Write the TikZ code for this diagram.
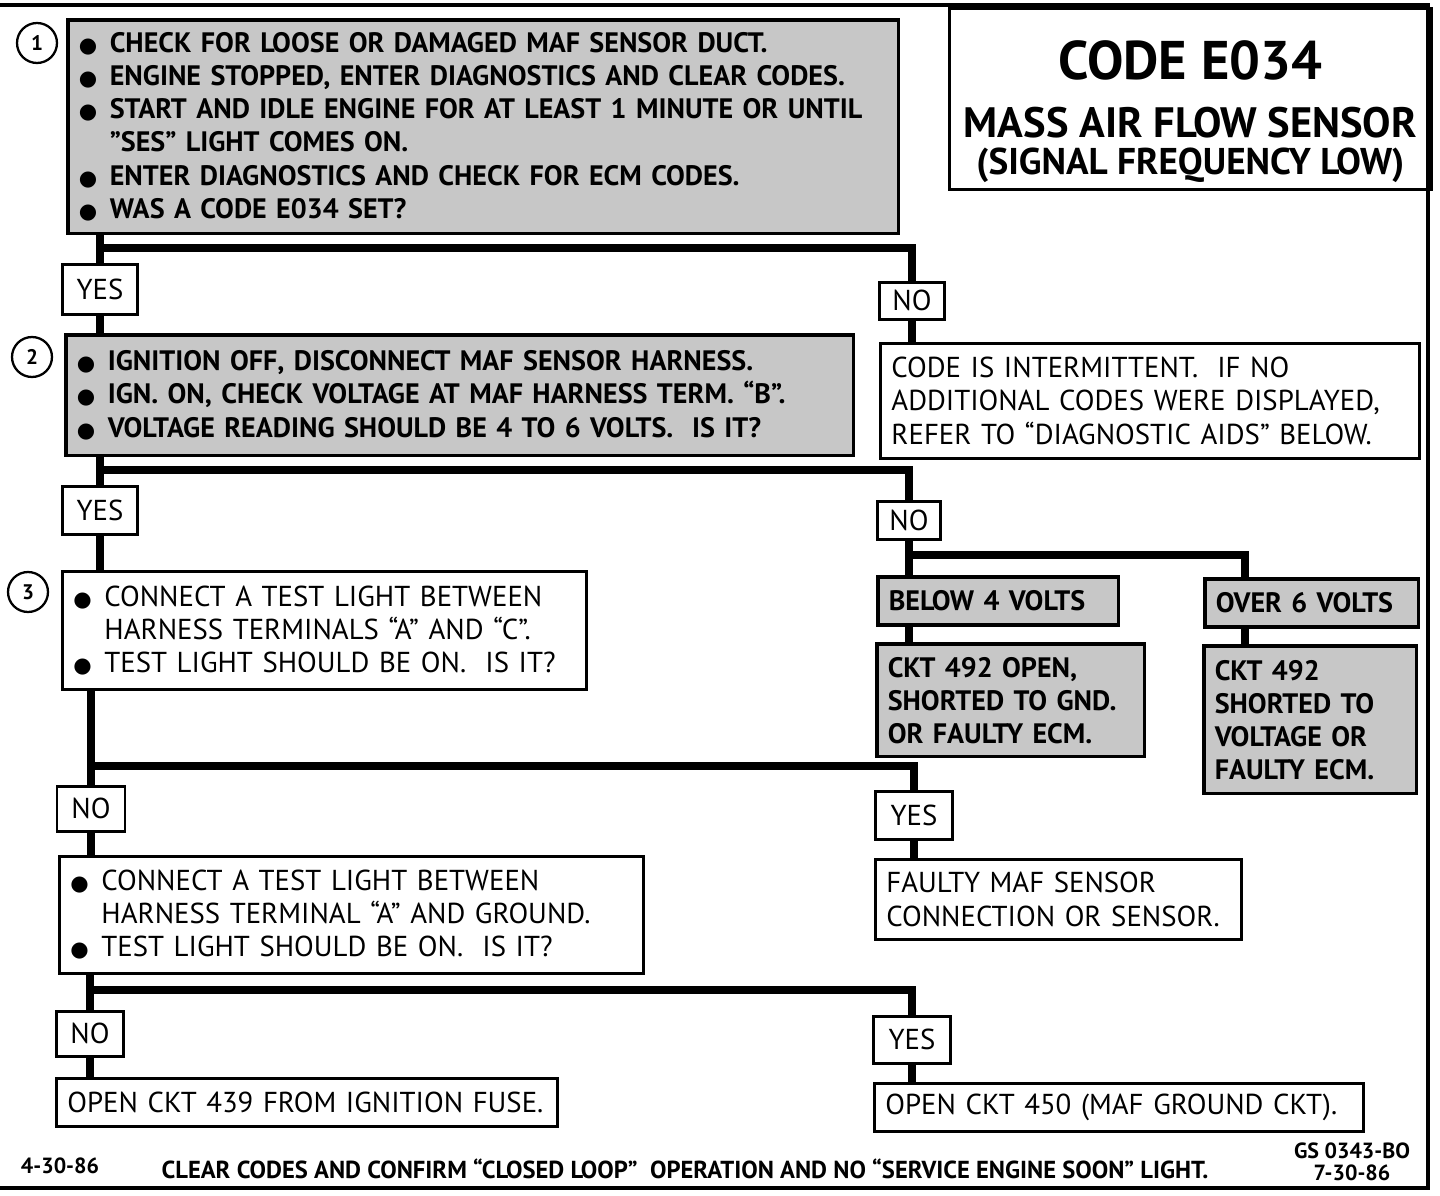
\documentclass[tikz,border=0pt]{standalone}
\usepackage{fontspec}
\setmainfont{PT Sans}
\newfontfamily\symfont{DejaVu Sans}
\usepackage{tikz}
\usetikzlibrary{positioning, calc}
\newcommand{\bodyfont}{\fontsize{16.4}{18.8}\selectfont}
\newcommand{\boldfont}{\fontsize{16}{18.8}\selectfont\bfseries}
\newcommand{\blt}{\makebox[0.62cm][l]{{\symfont\fontsize{12}{0}\selectfont ●}}}
\newcommand{\ind}{\hspace*{0.62cm}}
\tikzset{
  wire/.style={line width=4.6pt},
  frame/.style={line width=2.2pt},
  plainbox/.style={draw, line width=1.6pt, anchor=north west, align=left,
    inner xsep=0.22cm, inner ysep=0pt, font=\bodyfont},
  shadebox/.style={plainbox, line width=2pt, fill=black!22, font=\boldfont},
  answer/.style={draw, line width=1.6pt, anchor=north, inner sep=0pt, font=\bodyfont},
  stepnum/.style={circle, draw, line width=1.3pt, minimum size=0.8cm, inner sep=0pt,
    font=\fontsize{12}{14}\selectfont\bfseries},
  footnote/.style={font=\fontsize{12.5}{14}\selectfont\bfseries}
}
\begin{document}
\begin{tikzpicture}[x=0.02cm, y=-0.02cm]
  \useasboundingbox (0,0) rectangle (1440,1196);

  % outer frame
  \draw[frame] (0,5) -- (1428,5) -- (1428,1188) -- (0,1188);

  % title block
  \node[draw, line width=1.6pt, anchor=north west, minimum width=9.64cm,
        minimum height=3.62cm, align=center, inner sep=0pt,
        font=\fontsize{24}{33}\selectfont] (title) at (948,7)
    {\rule{0pt}{1.29cm}{\fontsize{31}{33}\selectfont\bfseries CODE E034}\\
     {\fontsize{24.2}{33}\selectfont\bfseries MASS AIR FLOW SENSOR}\\[-11.4pt]
     {\fontsize{21.2}{24}\selectfont\bfseries (SIGNAL FREQUENCY LOW)}};

  % step 1
  \node[shadebox, text width=16.18cm, minimum height=4.28cm] (q1) at (66,18)
    {\blt CHECK FOR LOOSE OR DAMAGED MAF SENSOR DUCT.\\
     \blt ENGINE STOPPED, ENTER DIAGNOSTICS AND CLEAR CODES.\\
     \blt START AND IDLE ENGINE FOR AT LEAST 1 MINUTE OR UNTIL\\
     \ind ''SES'' LIGHT COMES ON.\\
     \blt ENTER DIAGNOSTICS AND CHECK FOR ECM CODES.\\
     \blt WAS A CODE E034 SET?};
  \node[stepnum] (n1) at (37,43) {1};

  \node[answer, minimum width=1.5cm, minimum height=1.0cm] (yes1) at (100,263) {YES};
  \node[answer, minimum width=1.3cm, minimum height=0.74cm] (no1) at (912,281) {NO};

  \node[plainbox, text width=10.34cm, minimum height=2.3cm] (interm) at (879,342)
    {CODE IS INTERMITTENT.\ \ IF NO\\
     ADDITIONAL CODES WERE DISPLAYED,\\
     REFER TO ``DIAGNOSTIC AIDS'' BELOW.};

  % step 2
  \node[shadebox, text width=15.32cm, minimum height=2.42cm] (q2) at (64,333)
    {\blt IGNITION OFF, DISCONNECT MAF SENSOR HARNESS.\\
     \blt IGN. ON, CHECK VOLTAGE AT MAF HARNESS TERM. ``B''.\\
     \blt VOLTAGE READING SHOULD BE 4 TO 6 VOLTS.\ \ IS IT?};
  \node[stepnum] (n2) at (32,357) {2};

  \node[answer, minimum width=1.5cm, minimum height=0.96cm] (yes2) at (100,485) {YES};
  \node[answer, minimum width=1.26cm, minimum height=0.76cm] (no2) at (909,500) {NO};

  \node[shadebox, text width=4.38cm, minimum height=0.96cm] (below) at (876,575) {BELOW 4 VOLTS};
  \node[shadebox, text width=3.84cm, minimum height=0.96cm] (over) at (1203,577) {OVER 6 VOLTS};

  \node[shadebox, text width=4.92cm, minimum height=2.26cm] (ckt1) at (875,642)
    {CKT 492 OPEN,\\ SHORTED TO GND.\\ OR FAULTY ECM.};
  \node[shadebox, text width=3.82cm, minimum height=2.96cm] (ckt2) at (1202,644)
    {CKT 492\\ SHORTED TO\\ VOLTAGE OR\\ FAULTY ECM.};

  % step 3
  \node[plainbox, text width=10.04cm, minimum height=2.36cm] (q3) at (61,570)
    {\blt CONNECT A TEST LIGHT BETWEEN\\
     \ind HARNESS TERMINALS ``A'' AND ``C''.\\
     \blt TEST LIGHT SHOULD BE ON.\ \ IS IT?};
  \node[stepnum] (n3) at (28,592) {3};

  \node[answer, minimum width=1.36cm, minimum height=0.9cm] (no3) at (91,785) {NO};
  \node[answer, minimum width=1.54cm, minimum height=0.96cm] (yes3) at (914,790) {YES};

  \node[plainbox, text width=6.88cm, minimum height=1.6cm] (faulty) at (874,858)
    {FAULTY MAF SENSOR\\ CONNECTION OR SENSOR.};

  \node[plainbox, text width=11.24cm, minimum height=2.34cm] (q4) at (58,855)
    {\blt CONNECT A TEST LIGHT BETWEEN\\
     \ind HARNESS TERMINAL ``A'' AND GROUND.\\
     \blt TEST LIGHT SHOULD BE ON.\ \ IS IT?};

  \node[answer, minimum width=1.34cm, minimum height=0.9cm] (no4) at (90,1010) {NO};
  \node[answer, minimum width=1.54cm, minimum height=0.94cm] (yes4) at (912,1015) {YES};

  \node[plainbox, text width=9.58cm, minimum height=0.96cm] (open439) at (55,1077)
    {OPEN CKT 439 FROM IGNITION FUSE.};
  \node[plainbox, text width=9.34cm, minimum height=0.96cm] (open450) at (873,1082)
    {OPEN CKT 450 (MAF GROUND CKT).};

  % junctions
  \coordinate (j1) at (100,248);
  \coordinate (j2) at (100,470);
  \coordinate (jv) at (909,555);
  \coordinate (jw) at (1245,555);
  \coordinate (j3) at (91,766);
  \coordinate (j4) at (90,990);

  % connectors
  \draw[wire] (q1.south -| yes1.north) -- (yes1.north);
  \draw[wire] (j1) -| (no1.north);
  \draw[wire] (yes1.south) -- (yes1.south |- q2.north);
  \draw[wire] (no1.south) -- (no1.south |- interm.north);

  \draw[wire] (q2.south -| yes2.north) -- (yes2.north);
  \draw[wire] (j2) -| (no2.north);
  \draw[wire] (yes2.south) -- (yes2.south |- q3.north);
  \draw[wire] (no2.south) -- (no2.south |- below.north);
  \draw[wire] (jv) -- (jw) -- (jw |- over.north);
  \draw[wire] (no2.south |- below.south) -- (no2.south |- ckt1.north);
  \draw[wire] (jw |- over.south) -- (jw |- ckt2.north);

  \draw[wire] (q3.south -| no3.north) -- (no3.north);
  \draw[wire] (j3) -| (yes3.north);
  \draw[wire] (yes3.south) -- (yes3.south |- faulty.north);
  \draw[wire] (no3.south) -- (no3.south |- q4.north);

  \draw[wire] (q4.south -| no4.north) -- (no4.north);
  \draw[wire] (j4) -| (yes4.north);
  \draw[wire] (no4.south) -- (no4.south |- open439.north);
  \draw[wire] (yes4.south) -- (yes4.south |- open450.north);

  % footer
  \node[footnote] (date1) at (60,1166) {4-30-86};
  \node[footnote, font=\fontsize{14}{16}\selectfont\bfseries] (note) at (685,1169)
    {CLEAR CODES AND CONFIRM ``CLOSED LOOP''\ \ OPERATION AND NO ``SERVICE ENGINE SOON'' LIGHT.};
  \node[footnote, align=center, font=\fontsize{12.5}{12.5}\selectfont\bfseries] (gs) at (1352,1162)
    {GS 0343-BO\\ 7-30-86};
\end{tikzpicture}
\end{document}
